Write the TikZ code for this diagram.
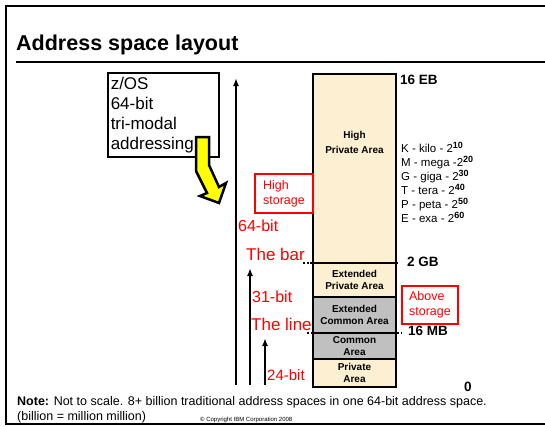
\documentclass[tikz,border=0pt]{standalone}
\usepackage{fontspec}
\setmainfont{Liberation Sans}
\usepackage{tikz}
\usetikzlibrary{positioning, arrows.meta}
\definecolor{AreaCream}{HTML}{FDF0D2}
\definecolor{AreaGrey}{HTML}{C0C0C0}
\definecolor{LabelRed}{HTML}{FF0000}
\definecolor{ArrowYellow}{HTML}{FFFF00}
\newcommand{\setsz}[2]{\fontsize{#1}{#2}\selectfont}
\newcommand{\pw}[1]{\raisebox{4pt}{\bfseries\setsz{9}{9}#1}}

\begin{document}
\begin{tikzpicture}[
            x=1pt, y=-1pt,
            node distance=0pt,
            seg/.style={draw, line width=2pt, outer sep=0pt, inner sep=0pt, minimum width=83pt, align=center, font=\bfseries\setsz{10}{12}},
            privseg/.style={seg, fill=AreaCream},
            commseg/.style={seg, fill=AreaGrey},
            redbox/.style={draw=LabelRed, line width=2pt, text=LabelRed, align=left, anchor=north west, inner xsep=4pt, font=\setsz{12.5}{15}},
            redlabel/.style={text=LabelRed, anchor=base west, inner sep=0pt, font=\setsz{16}{19}},
            sizelabel/.style={anchor=base west, inner sep=0pt, font=\bfseries\setsz{13.5}{16}},
            unit/.style={anchor=base west, inner sep=0pt, font=\setsz{11.5}{14}},
            plain/.style={anchor=base west, inner sep=0pt, font=\setsz{12.5}{15}},
            bitarrow/.style={-{Latex[length=8pt,width=6pt]}, line width=2pt},
            bar/.style={line width=2pt, dash pattern=on 2pt off 1.6pt},
            frame/.style={line width=2pt}
        ]
            \useasboundingbox (0,0) rectangle (545,426);

            % frame and title
            \draw[frame] (545,6) -- (6,6) -- (6,424) -- (545,424);
            \node[anchor=base west, inner sep=0pt, font=\bfseries\setsz{21.5}{24}] (title) at (16,50) {Address space layout};
            \draw[frame] (16,62) -- (545,62);

            % z/OS box and yellow arrow
            \node[draw, line width=1.5pt, anchor=north west, text width=105pt, inner xsep=3pt, minimum height=84pt, align=left, font=\setsz{17}{20}] (zos) at (107,72) {z/OS\\64-bit\\tri-modal\\addressing};
            \draw[line width=2.5pt, fill=ArrowYellow, line join=miter] (196,137) -- (209,137) -- (209,165) -- (219,187) -- (226,183) -- (219,203) -- (200,196) -- (207,193) -- (196,171) -- cycle;

            % address space column
            \node[privseg, minimum height=189pt, anchor=north] (hpa) at (354.5,74) {};
            \node[font=\bfseries\setsz{10}{12}, align=center] (hpatext) at (354.5,142) {High\\[3pt]Private Area};
            \node[privseg, minimum height=34pt, below=of hpa] (epa) {Extended\\Private Area};
            \node[commseg, minimum height=36pt, below=of epa] (eca) {Extended\\Common Area};
            \node[commseg, minimum height=26pt, below=of eca] (ca) {Common\\Area};
            \node[privseg, minimum height=28pt, below=of ca] (pa) {Private\\Area};

            \coordinate (barL) at (303,263);
            \coordinate (barR) at (398,263);
            \coordinate (lineL) at (307,333);
            \coordinate (lineR) at (402,333);
            \draw[bar] (barL) -- (barR);
            \draw[bar] (lineL) -- (lineR);

            % bit arrows
            \coordinate (base64) at (236,385);
            \coordinate (top64) at (236,78);
            \coordinate (base31) at (250,385);
            \coordinate (top31) at (250,268);
            \coordinate (base24) at (265,385);
            \coordinate (top24) at (265,338);
            \draw[bitarrow] (base64) -- (top64);
            \draw[bitarrow] (base31) -- (top31);
            \draw[bitarrow] (base24) -- (top24);

            % red labels
            \node[redbox, minimum width=58pt, minimum height=39pt] (high) at (254,173) {High\\storage};
            \node[redbox, minimum width=56pt, minimum height=38pt] (above) at (401,285) {Above\\storage};
            \node[redlabel] (l64) at (238,231) {64-bit};
            \node[redlabel, font=\setsz{17}{20}] (thebar) at (246,260) {The bar};
            \node[redlabel] (l31) at (252,302) {31-bit};
            \node[redlabel, font=\setsz{17}{20}] (theline) at (251,330) {The line};
            \node[redlabel, font=\setsz{15}{18}] (l24) at (267,380) {24-bit};

            % sizes
            \node[sizelabel] (eb) at (400,84) {16 EB};
            \node[sizelabel] (gb) at (407,266) {2 GB};
            \node[sizelabel] (mb) at (408,335) {16 MB};
            \node[sizelabel] (zero) at (464,391) {0};

            \node[unit] (kilo) at (401,152) {K - kilo - 2\pw{10}};
            \node[unit] (mega) at (401,166) {M - mega -2\pw{20}};
            \node[unit] (giga) at (401,180) {G - giga - 2\pw{30}};
            \node[unit] (tera) at (401,194) {T - tera - 2\pw{40}};
            \node[unit] (peta) at (401,208) {P - peta - 2\pw{50}};
            \node[unit] (exa) at (401,222) {E - exa - 2\pw{60}};

            % note
            \node[plain] (note) at (17,405) {\textbf{Note:} Not to scale. 8+ billion traditional address spaces in one 64-bit address space.};
            \node[plain] (billion) at (17,420) {(billion = million million)};
            \node[anchor=base west, inner sep=0pt, font=\setsz{6}{7}] (copy) at (200,421) {© Copyright IBM Corporation 2008};

        \end{tikzpicture}
\end{document}
